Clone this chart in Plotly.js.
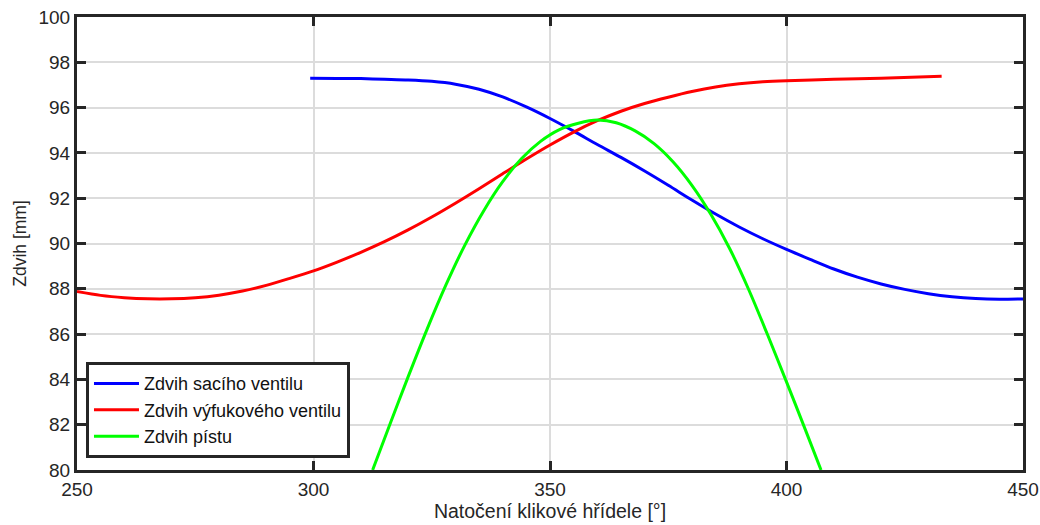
<!DOCTYPE html>
<html>
<head>
<meta charset="utf-8">
<script src="https://cdn.plot.ly/plotly-3.0.1.min.js"></script>
<style>html,body{margin:0;padding:0;background:#fff;}#chart{width:1040px;height:525px;}</style>
</head>
<body>
<div id="chart"></div>
<script>
// Zdvih sacího ventilu (intake valve)
const intakeAngle = [299.3, 305, 310, 315, 320, 325, 330, 335, 340, 345, 350, 355, 360, 365, 370, 375, 380, 385, 390, 395, 400, 405, 410, 415, 420, 425, 430, 435, 440, 445, 450];
const intakeLift  = [97.3, 97.29, 97.28, 97.25, 97.22, 97.16, 97.035, 96.81, 96.47, 96.03, 95.52, 94.96, 94.37, 93.8, 93.2, 92.57, 91.92, 91.3, 90.73, 90.21, 89.74, 89.3, 88.875, 88.515, 88.215, 87.975, 87.785, 87.65, 87.57, 87.54, 87.555];

// Zdvih výfukového ventilu (exhaust valve)
const exhaustAngle = [250, 255, 260, 265, 270, 275, 280, 285, 290, 295, 300, 305, 310, 315, 320, 325, 330, 335, 340, 345, 350, 355, 360, 365, 370, 375, 380, 385, 390, 395, 400, 410, 420, 432.8];
const exhaustLift  = [87.88, 87.71, 87.61, 87.56, 87.56, 87.61, 87.72, 87.9, 88.15, 88.46, 88.79, 89.18, 89.61, 90.08, 90.6, 91.17, 91.78, 92.42, 93.08, 93.73, 94.35, 94.92, 95.42, 95.84, 96.18, 96.46, 96.71, 96.91, 97.05, 97.14, 97.19, 97.25, 97.3, 97.38];

// Zdvih pístu (piston)
const pistonAngle = [312.5, 316, 320, 324, 328, 332, 336, 340, 344, 348, 352, 356, 360, 364, 368, 372, 376, 380, 384, 388, 392, 396, 400, 404, 407.3];
const pistonLift  = [80.0, 81.93, 84.11, 86.21, 88.17, 89.93, 91.45, 92.73, 93.75, 94.51, 95.03, 95.31, 95.45, 95.33, 94.97, 94.41, 93.61, 92.57, 91.29, 89.77, 87.97, 85.97, 83.89, 81.77, 80.0];

const seriesNames = ['Zdvih sacího ventilu', 'Zdvih výfukového ventilu', 'Zdvih pístu'];
const xTicks = [250, 300, 350, 400, 450];
const yTicks = [80, 82, 84, 86, 88, 90, 92, 94, 96, 98, 100];

const traces = [
  {x: intakeAngle, y: intakeLift, name: seriesNames[0], type: 'scatter', mode: 'lines', line: {color: '#0000ff', width: 3, shape: 'spline', smoothing: 0.8}},
  {x: exhaustAngle, y: exhaustLift, name: seriesNames[1], type: 'scatter', mode: 'lines', line: {color: '#ff0000', width: 3, shape: 'spline', smoothing: 0.8}},
  {x: pistonAngle, y: pistonLift, name: seriesNames[2], type: 'scatter', mode: 'lines', line: {color: '#00ff00', width: 3, shape: 'spline', smoothing: 0.8}}
];

const FONT = 'Liberation Sans, Arial, sans-serif';
const axisCommon = {
  showline: true, linecolor: '#262626', linewidth: 3, mirror: 'ticks',
  ticks: 'inside', ticklen: 9, tickwidth: 3, tickcolor: '#262626',
  showgrid: true, gridcolor: '#dcdcdc', gridwidth: 2,
  zeroline: false,
  tickfont: {family: FONT, size: 19, color: '#262626'}
};

const layout = {
  width: 1040, height: 525,
  margin: {l: 77, r: 17, t: 17, b: 55},
  paper_bgcolor: '#ffffff', plot_bgcolor: '#ffffff',
  showlegend: true,
  legend: {
    x: 0.0095, y: 0.026, xanchor: 'left', yanchor: 'bottom',
    bgcolor: '#ffffff', bordercolor: '#262626', borderwidth: 3,
    font: {family: FONT, size: 18, color: '#111'},
    itemwidth: 45,
    tracegroupgap: 0
  },
  xaxis: Object.assign({}, axisCommon, {
    range: [250, 450], tickvals: xTicks, ticktext: xTicks.map(String),
    title: {text: 'Natočení klikové hřídele [°]', standoff: 4, font: {family: FONT, size: 19.5, color: '#262626'}}
  }),
  yaxis: Object.assign({}, axisCommon, {
    range: [80, 100], tickvals: yTicks, ticktext: yTicks.map(String),
    title: {text: 'Zdvih [mm]', standoff: 8, font: {family: FONT, size: 17.5, color: '#262626'}}
  })
};

Plotly.newPlot('chart', traces, layout, {displayModeBar: false, staticPlot: true});
</script>
</body>
</html>
